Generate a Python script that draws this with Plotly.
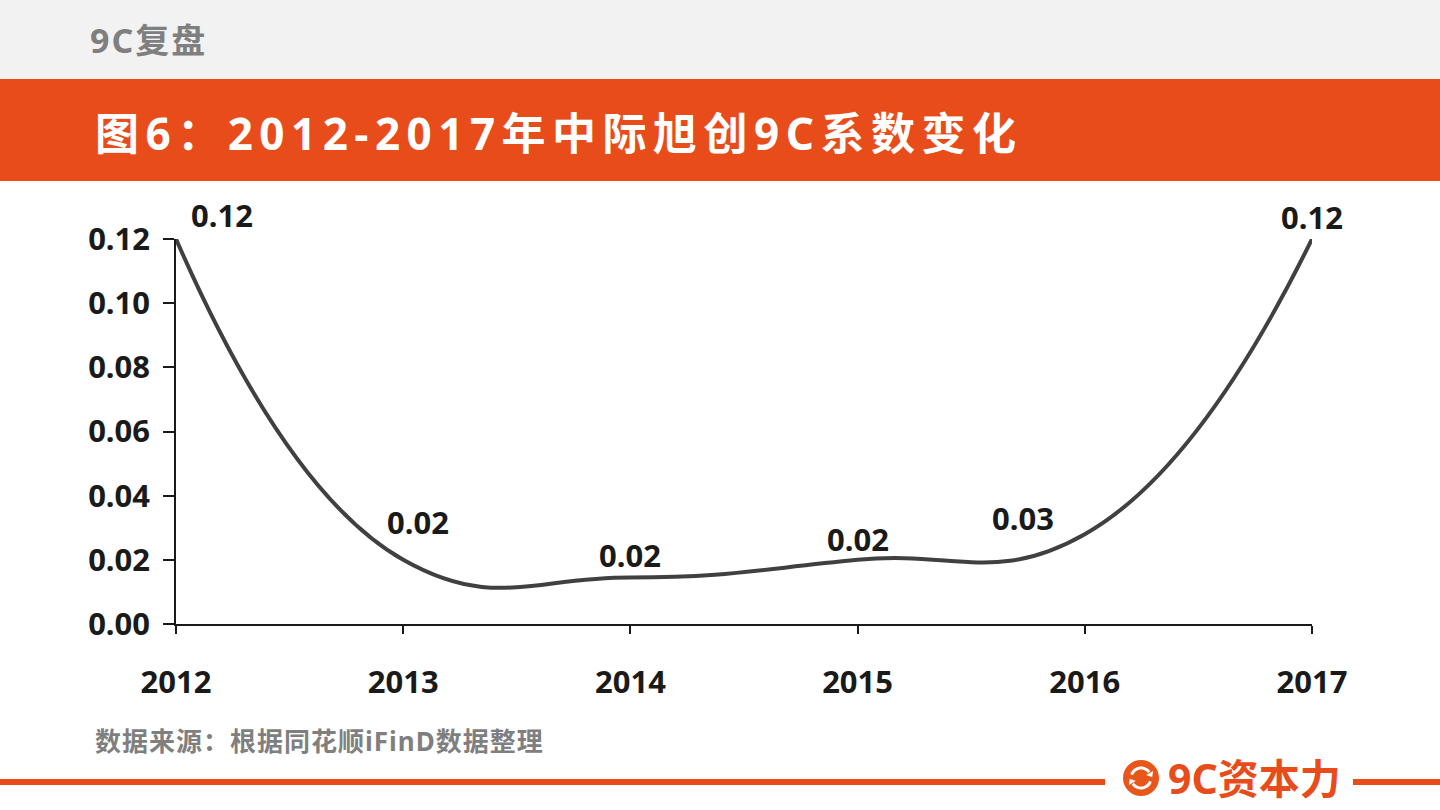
import math

import plotly.graph_objects as go

# Data
years  = [2012, 2013, 2014, 2015, 2016, 2017]
coef   = [0.120, 0.020, 0.0145, 0.020, 0.028, 0.120]
labels = ["0.12", "0.02", "0.02", "0.02", "0.03", "0.12"]
# label offsets in pixels (dx, dy) relative to each point
label_shift = [(46, 24), (15, 38), (0, 22), (0, 21), (-62, 16), (0, 22)]

y_ticks = [0.00, 0.02, 0.04, 0.06, 0.08, 0.10, 0.12]

title_text  = "图6：2012-2017年中际旭创9C系数变化"
header_text = "9C复盘"
source_text = "数据来源：根据同花顺iFinD数据整理"
brand_text  = "9C资本力"

ORANGE = "#e84c1a"
GREY   = "#7f7f7f"
INK    = "#1a1a1a"
FONT   = "Noto Sans, Noto Sans CJK SC, sans-serif"

W, H = 1440, 810
L, R, T, B = 176, 1312, 239, 624


#  pixel -> paper helpers for the page decoration
def px(x):
    return (x - L) / (R - L)


def py(y):
    return (B - y) / (B - T)


def spaced(text, gap):
    return '<span style="letter-spacing:%spx">%s</span>' % (gap, text)


fig = go.Figure()

fig.add_trace(go.Scatter(x=years, y=coef, mode="lines",
                         line=dict(color="#404040", width=4, shape="spline", smoothing=1.3),
                         hoverinfo="skip", showlegend=False))

annotations = []
for yr, v, txt, (dx, dy) in zip(years, coef, labels, label_shift):
    annotations.append(dict(x=yr, y=v, xref="x", yref="y", text=txt, showarrow=False,
                            xshift=dx, yshift=dy, xanchor="center", yanchor="middle",
                            font=dict(family=FONT, size=31, color=INK, weight=700)))

annotations += [
    dict(x=px(88), y=py(40), xref="paper", yref="paper", text=spaced(header_text, 2), showarrow=False,
         xanchor="left", yanchor="middle", font=dict(family=FONT, size=34, color=GREY, weight=700)),
    dict(x=px(93), y=py(133), xref="paper", yref="paper", text=spaced(title_text, 6.5), showarrow=False,
         xanchor="left", yanchor="middle", font=dict(family=FONT, size=44, color="white", weight=700)),
    dict(x=px(93), y=py(741), xref="paper", yref="paper", text=spaced(source_text, 1), showarrow=False,
         xanchor="left", yanchor="middle", font=dict(family=FONT, size=26, color=GREY, weight=700)),
    dict(x=px(1166), y=py(778), xref="paper", yref="paper", text=brand_text, showarrow=False,
         xanchor="left", yanchor="middle", font=dict(family=FONT, size=41, color=ORANGE, weight=700)),
]

shapes = [
    dict(type="rect", xref="paper", yref="paper", x0=px(0), x1=px(W), y0=py(0), y1=py(79),
         fillcolor="#f2f2f2", line_width=0, layer="below"),
    dict(type="rect", xref="paper", yref="paper", x0=px(0), x1=px(W), y0=py(79), y1=py(181),
         fillcolor=ORANGE, line_width=0, layer="below"),
    dict(type="line", xref="paper", yref="paper", x0=px(0), x1=px(1105), y0=py(782), y1=py(782),
         line=dict(color=ORANGE, width=6)),
    dict(type="line", xref="paper", yref="paper", x0=px(1353), x1=px(W), y0=py(782), y1=py(782),
         line=dict(color=ORANGE, width=6)),
    dict(type="circle", xref="paper", yref="paper", x0=px(1123), x1=px(1159), y0=py(796), y1=py(760),
         fillcolor="#e8561a", line_width=0),
]


#  little sync icon inside the brand circle
def arc_path(cx, cy, r, a0, a1, n=16):
    pts = []
    for i in range(n + 1):
        a = math.radians(a0 + (a1 - a0) * i / n)
        pts.append((px(cx + r * math.cos(a)), py(cy - r * math.sin(a))))
    return "M " + " L ".join("%.5f,%.5f" % p for p in pts)


def head_path(cx, cy, r, a, direction):
    ra = math.radians(a)
    tx, ty = cx + r * math.cos(ra), cy - r * math.sin(ra)
    tang = ra + direction * math.pi / 2
    ux, uy = math.cos(tang), -math.sin(tang)
    nx, ny = math.cos(ra), -math.sin(ra)
    p1 = (tx + 5 * ux, ty + 5 * uy)
    p2 = (tx - 4 * nx, ty - 4 * ny)
    p3 = (tx + 4 * nx, ty + 4 * ny)
    return "M %.5f,%.5f L %.5f,%.5f L %.5f,%.5f Z" % (px(p1[0]), py(p1[1]), px(p2[0]), py(p2[1]),
                                                       px(p3[0]), py(p3[1]))


cx, cy = 1141, 778
shapes += [
    dict(type="path", xref="paper", yref="paper", path=arc_path(cx, cy, 10, 160, 35),
         line=dict(color="white", width=3)),
    dict(type="path", xref="paper", yref="paper", path=arc_path(cx, cy, 10, 340, 215),
         line=dict(color="white", width=3)),
    dict(type="path", xref="paper", yref="paper", path=head_path(cx, cy, 10, 30, -1),
         fillcolor="white", line_width=0),
    dict(type="path", xref="paper", yref="paper", path=head_path(cx, cy, 10, 210, -1),
         fillcolor="white", line_width=0),
]

fig.update_layout(
    width=W, height=H,
    margin=dict(l=L, r=W - R, t=T, b=H - B, pad=0),
    paper_bgcolor="white", plot_bgcolor="white",
    font=dict(family=FONT, color=INK),
    showlegend=False,
    annotations=annotations,
    shapes=shapes,
)

fig.update_xaxes(range=[2012, 2017], tickvals=years, ticktext=[str(y) for y in years],
                 showgrid=False, zeroline=False, showline=True, linecolor=INK, linewidth=1.5,
                 ticks="outside", ticklen=8, tickwidth=1.5, tickcolor=INK,
                 ticklabelstandoff=22,
                 tickfont=dict(family=FONT, size=31, color=INK, weight=700))

fig.update_yaxes(range=[0, 0.12], tickvals=y_ticks, tickformat=".2f",
                 showgrid=False, zeroline=False, showline=True, linecolor=INK, linewidth=1.5,
                 ticks="outside", ticklen=11, tickwidth=1.5, tickcolor=INK,
                 ticklabelstandoff=7,
                 tickfont=dict(family=FONT, size=31, color=INK, weight=700))

#  drop the page margin so the figure sits flush in the window
fig.write_html("out.html", config={"displayModeBar": False},
               post_script="document.body.style.margin='0';")
